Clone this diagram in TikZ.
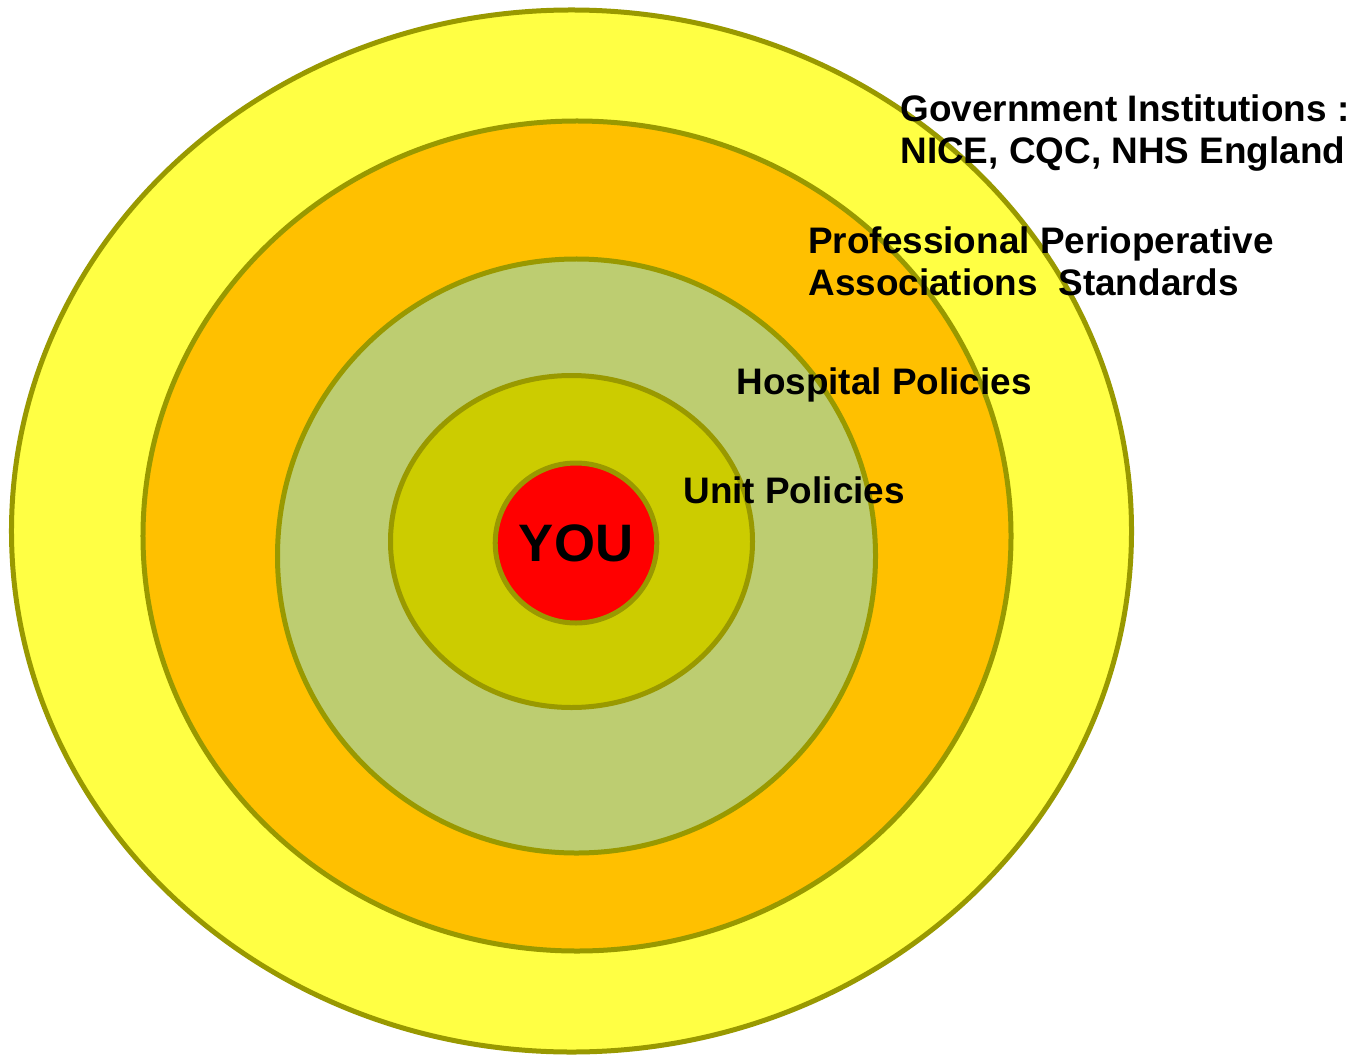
\documentclass[tikz,border=0pt]{standalone}
\usepackage{fontspec}
\setmainfont{Liberation Sans}
\usepackage{tikz}
\usetikzlibrary{positioning,shapes.geometric}
\definecolor{ringline}{HTML}{999900}
\definecolor{govfill}{HTML}{FFFF44}
\definecolor{proffill}{HTML}{FFC000}
\definecolor{hospfill}{HTML}{BDCD71}
\definecolor{unitfill}{HTML}{CCCC00}
\definecolor{youfill}{HTML}{FF0000}
\tikzset{
ring/.style={
draw=ringline,
ellipse,
line width=1mm,
inner sep=0pt
},
ringlabel/.style={
anchor=west,
align=left,
inner sep=0pt,
font=\fontsize{21}{24}\selectfont\bfseries
}
}

\begin{document}
\begin{tikzpicture}[x=0.2mm,y=-0.2mm]
\useasboundingbox (0,0) rectangle (1357,1055);
% rings, outside in
\node[ring,fill=govfill,minimum width=224mm,minimum height=208.4mm](gov) at (571.5,531){};
\node[ring,fill=proffill,minimum width=173.6mm,minimum height=166mm](prof) at (577,536){};
\node[ring,fill=hospfill,minimum width=119.6mm,minimum height=118.8mm](hosp) at (576.5,556){};
\node[ring,fill=unitfill,minimum width=72.4mm,minimum height=66.4mm](unit) at (571.5,541.5){};
\node[ring,fill=youfill,minimum width=31.2mm,minimum height=32mm,font=\fontsize{30}{36}\selectfont\bfseries](you) at (576,543){YOU};

% labels
\node[ringlabel](govtext) at (900,133){Government Institutions :\\NICE, CQC, NHS England};
\node[ringlabel](proftext) at (808,261){Professional Perioperative\\Associations\ \ Standards};
\node[ringlabel](hosptext) at (736,385){Hospital Policies};
\node[ringlabel](unittext) at (683,490){Unit Policies};
\end{tikzpicture}
\end{document}
